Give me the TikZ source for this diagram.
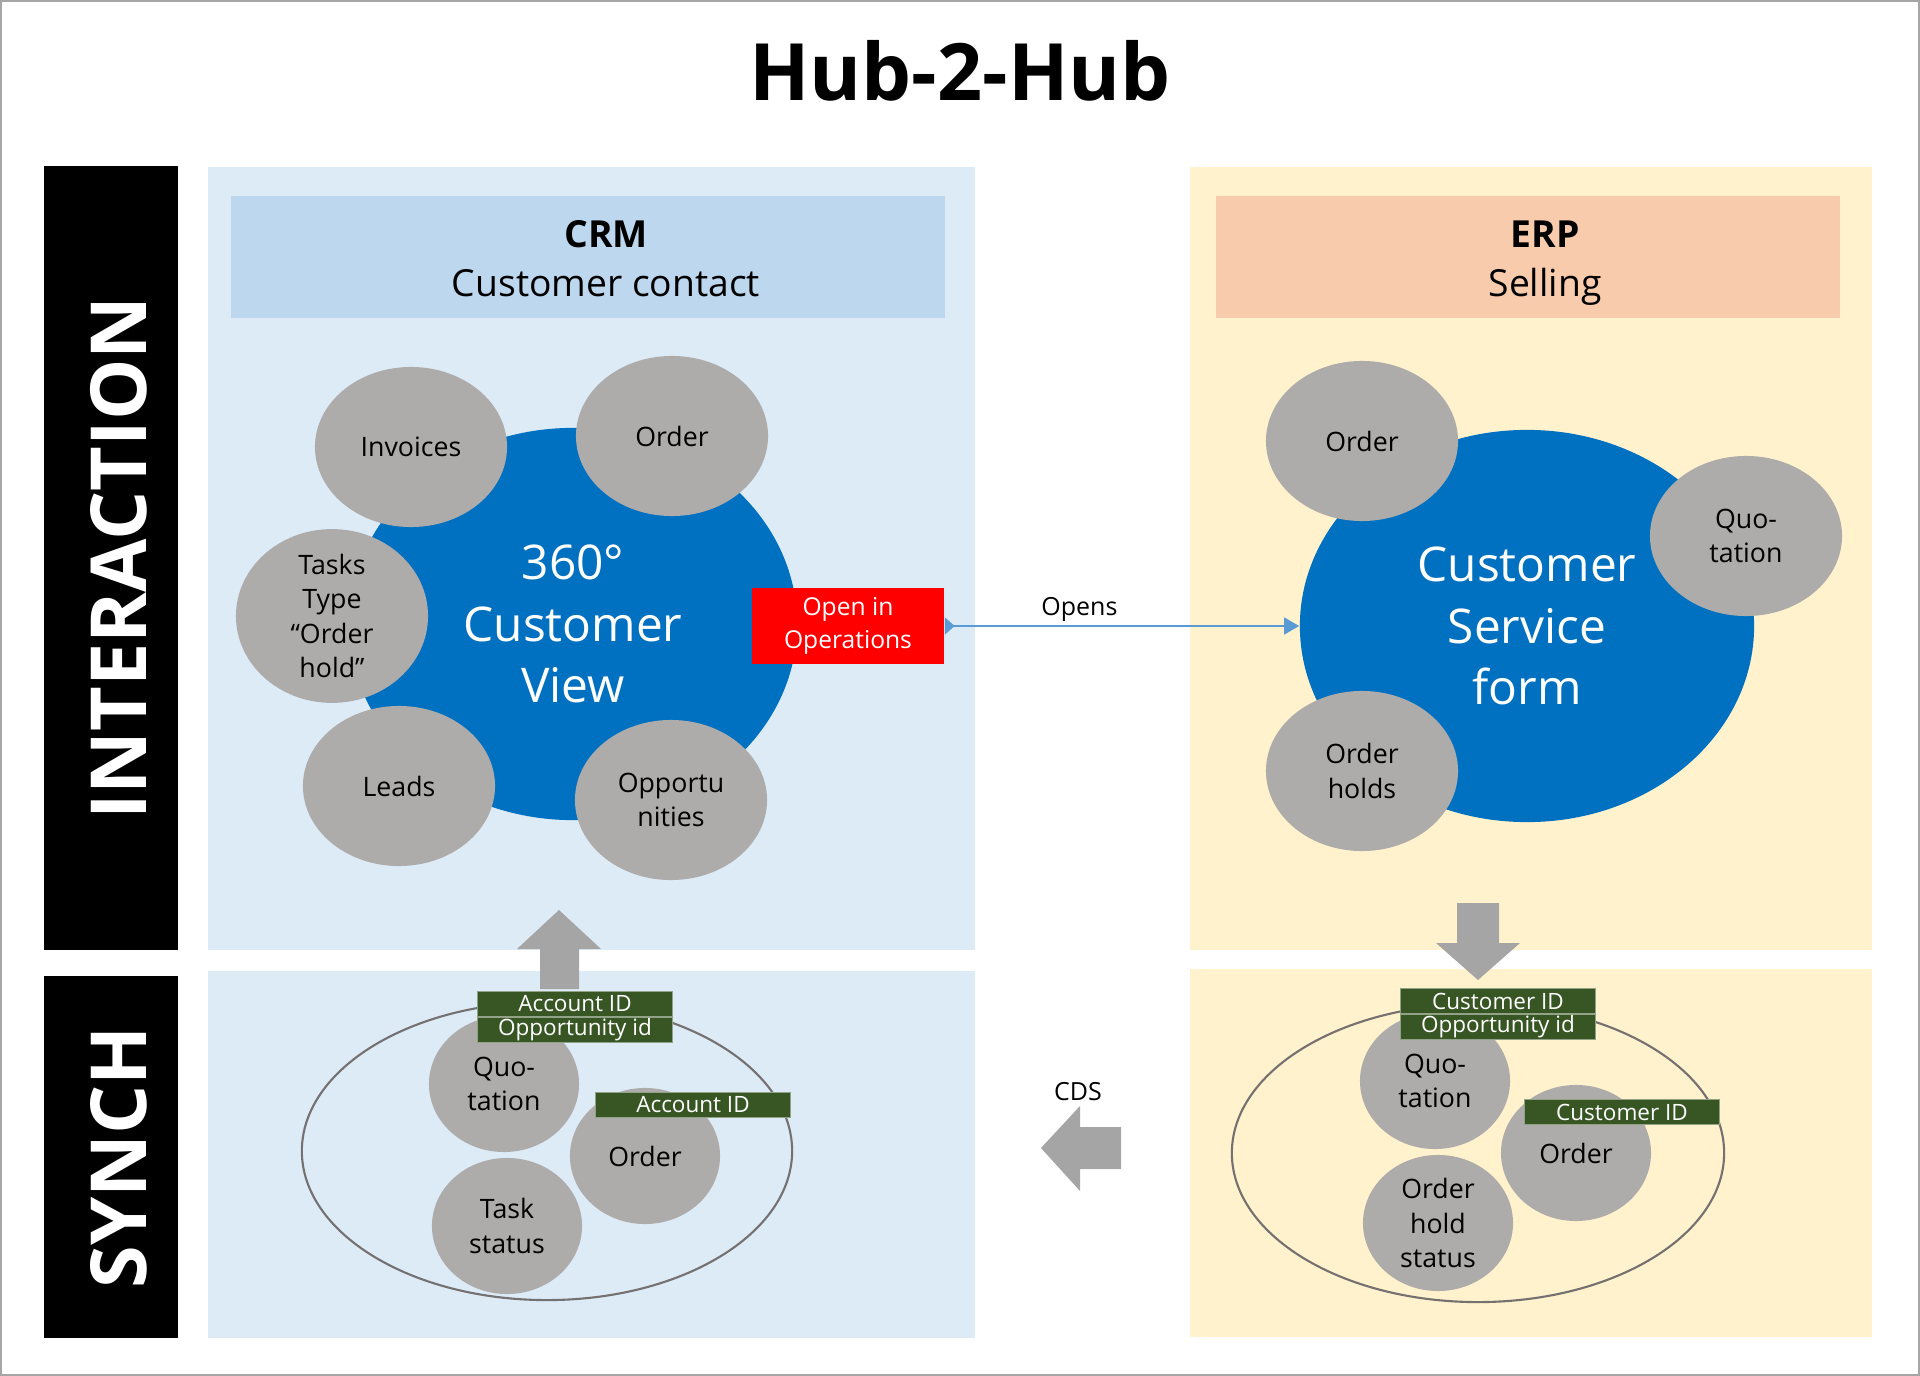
\documentclass[tikz,border=0pt]{standalone}
\usepackage{fontspec}
\setmainfont{Open Sans}
\usetikzlibrary{shapes.geometric,arrows.meta,positioning}
\definecolor{crmpane}{HTML}{DDEBF7}
\definecolor{crmhead}{HTML}{BDD7EE}
\definecolor{erppane}{HTML}{FFF2CC}
\definecolor{erphead}{HTML}{F8CBAD}
\definecolor{hubblue}{HTML}{0070C0}
\definecolor{bubblegray}{HTML}{AEABAB}
\definecolor{taggreen}{HTML}{375623}
\definecolor{flowgray}{HTML}{A5A5A5}
\definecolor{ringgray}{HTML}{767171}
\definecolor{linkblue}{HTML}{5B9BD5}
\newcommand{\fsz}[2]{\fontsize{#1}{#2}\selectfont}

\begin{document}
\begin{tikzpicture}[x=0.01cm, y=-0.01cm,
  sidebar/.style={rectangle, fill=black, text=white, rotate=90, inner sep=0pt, minimum height=1.34cm, text height=0.7cm, text depth=0pt, font=\bfseries\fsz{22}{26}},
  header/.style={rectangle, inner sep=0pt, minimum height=1.22cm},
  hdrtext/.style={align=center, font=\fsz{10.6}{14}},
  hub/.style={ellipse, fill=hubblue, text=white, inner sep=0pt, minimum height=3.92cm, align=center, font=\fsz{13.6}{17.4}},
  bubble/.style={ellipse, fill=bubblegray, inner sep=0pt, minimum width=1.92cm, minimum height=1.6cm, align=center, font=\fsz{7.6}{9.7}},
  smallbubble/.style={bubble, minimum width=1.5cm, minimum height=1.36cm},
  ring/.style={ellipse, draw=ringgray, line width=0.6pt, inner sep=0pt, minimum height=2.98cm},
  idtag/.style={rectangle, fill=taggreen, draw=taggreen!55!white, line width=0.3pt, text=white, inner sep=0pt, minimum width=1.95cm, minimum height=0.25cm, font=\fsz{6.4}{7}},
  smalltext/.style={font=\fsz{7.1}{9}}]
  \useasboundingbox (0,0) rectangle (1920,1376);
  \draw[gray!70, line width=0.6pt] (1,1) rectangle (1919,1375);
  % Title
  \node[font=\bfseries\fsz{22.5}{27}] (title) at (960,71) {Hub-2-Hub};
  % Panels for both hubs
  \fill[crmpane] (208,167) rectangle (975,950);
  \fill[crmpane] (208,971) rectangle (975,1338);
  \fill[erppane] (1190,167) rectangle (1872,950);
  \fill[erppane] (1190,969) rectangle (1872,1337);
  % Side bars
  \node[sidebar, minimum width=7.83cm] (interaction) at (111,558) {INTERACTION};
  \node[sidebar, minimum width=3.62cm] (synch) at (111,1157) {SYNCH};
  % Headers
  \node[header, fill=crmhead, minimum width=7.14cm] (crmbar) at (588,257) {};
  \node[hdrtext] (crmtitle) at ([xshift=0.18cm, yshift=-0.02cm]crmbar.center) {\textbf{CRM}\\Customer contact};
  \node[header, fill=erphead, minimum width=6.24cm] (erpbar) at (1528,257) {};
  \node[hdrtext] (erptitle) at ([xshift=0.17cm, yshift=-0.06cm]erpbar.center) {\textbf{ERP}\\Selling};
  % Interaction hubs
  \node[hub, minimum width=4.48cm] (cview) at (573,624) {360°\\Customer\\View};
  \node[hub, minimum width=4.54cm] (csform) at (1527,626) {Customer\\Service\\form};
  \foreach \nm/\px/\py/\txt in {invoices/411/447/Invoices, crmorder/672/436/Order, tasks/332/616/{Tasks\\Type\\“Order\\hold”}, leads/399/786/Leads, opps/671/800/{Opportu\\nities}, erporder/1362/441/Order, erpquo/1746/536/{Quo-\\tation}, holds/1362/771/{Order\\holds}}
    \node[bubble] (\nm) at (\px,\py) {\txt};
  % Open in operations link
  \node[rectangle, fill=red, text=white, minimum width=1.92cm, minimum height=0.76cm, inner sep=0pt, align=center, font=\fsz{7}{9.4}] (openops) at (848,626) {Open in\\Operations};
  \draw[linkblue, line width=0.5pt, {Triangle[reversed,length=1mm,width=1.7mm]}-{Triangle[length=1.5mm,width=1.7mm]}] (openops.east) -- (csform.west) node[smalltext, pos=0.38, above, inner sep=1pt, text=black] (openslbl) {Opens};
  % Synch rings
  \node[ring, minimum width=4.9cm] (crmring) at (547,1151) {};
  \node[ring, minimum width=4.92cm] (erpring) at (1478,1153) {};
  \foreach \nm/\px/\py/\txt in {crmquo/504/1084/{Quo-\\tation}, crmord/645/1156/Order, taskst/507/1226/{Task\\status}, erpquo2/1435/1081/{Quo-\\tation}, erpord/1576/1153/Order, holdst/1438/1223/{Order\\hold\\status}}
    \node[smallbubble] (\nm) at (\px,\py) {\txt};
  % Block arrows
  \fill[flowgray] (540,989) -- (540,949) -- (517,949) -- (559,910) -- (601,949) -- (579,949) -- (579,989) -- cycle;
  \fill[flowgray] (1457,903) -- (1499,903) -- (1499,943) -- (1520,943) -- (1478,980) -- (1436,943) -- (1457,943) -- cycle;
  \fill[flowgray] (1121,1127) -- (1080,1127) -- (1080,1106) -- (1041,1148) -- (1080,1191) -- (1080,1169) -- (1121,1169) -- cycle;
  \node[smalltext] (cds) at (1078,1092) {CDS};
  % Key tags
  \node[idtag] (accid) at (575,1004) {Account ID};
  \node[idtag, below=0pt of accid] (oppid) {Opportunity id};
  \node[idtag] (accid2) at (693,1105) {Account ID};
  \node[idtag] (custid) at (1498,1001) {Customer ID};
  \node[idtag, below=0pt of custid] (oppid2) {Opportunity id};
  \node[idtag] (custid2) at (1622,1112) {Customer ID};
\end{tikzpicture}
\end{document}
